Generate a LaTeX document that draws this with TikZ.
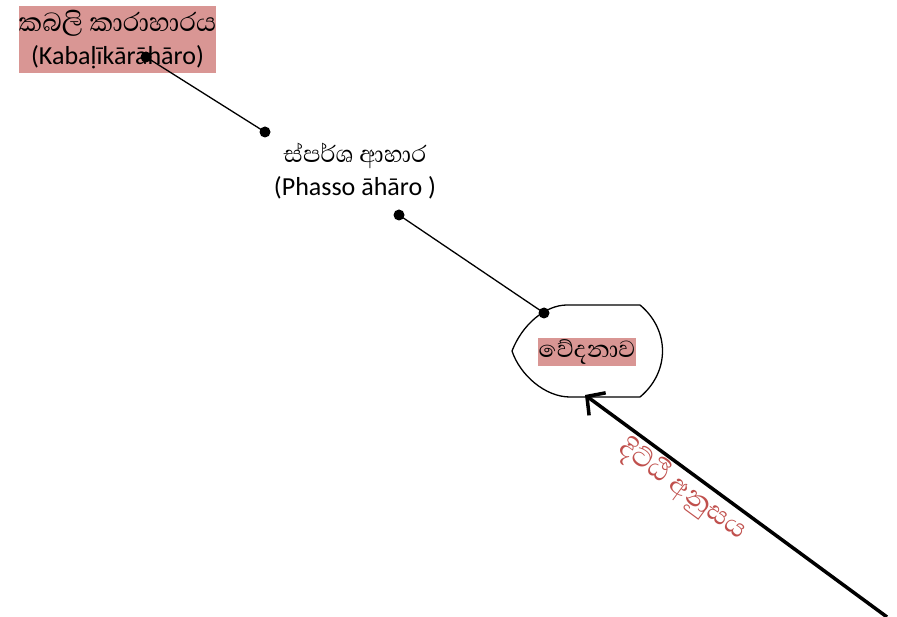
\documentclass[tikz,border=0pt]{standalone}
\usepackage{fontspec}
\setmainfont{Carlito}
\newfontfamily\sinhala[Script=Sinhala,Scale=1.15]{Abhaya Libre}
\usetikzlibrary{calc, positioning, arrows.meta}
\definecolor{boxred}{HTML}{D99694}
\definecolor{labelred}{HTML}{C0504D}

\begin{document}
\begin{tikzpicture}[x=1pt,y=-1pt,
  every node/.style={font=\fontsize{26}{33}\selectfont},
  dot/.style={circle,fill=black,inner sep=0pt,minimum size=11pt},
  link/.style={line width=1.3pt}]
\useasboundingbox (0,0) rectangle (897,617);
% Top left box
\node[fill=boxred,minimum width=193pt,minimum height=67pt,inner sep=0pt,align=center] (kabali) at (117.5,39.5) {{\sinhala\fontsize{29}{33}\selectfont කබලි කාරාහාරය}\\(Kabaḷīkārāhāro)};
\node[dot] (kdot) at (146,57) {};
\node[dot] (pdot1) at (265,132) {};
\draw[link] (kdot.center) -- (pdot1.center);
% Second food
\node[align=center,inner sep=0pt] (phasso) at (355,171) {{\sinhala ස්පර්ශ ආහාර}\\(Phasso āhāro )};
\node[dot] (pdot2) at (399,215) {};
\node[dot] (vdot) at (544,313) {};
\draw[link] (pdot2.center) -- (vdot.center);
% Feeling shape
\draw[link] (567,305) -- (640,305) .. controls (670,330) and (670,372) .. (640,397)
  -- (570,397) .. controls (545,397) and (520,375) .. (512,351)
  .. controls (522,325) and (545,305) .. (567,305);
\node[fill=boxred,inner sep=1pt,minimum width=96pt,minimum height=28pt] (vedana) at (587,352) {\sinhala වේදනාව};
% Thick arrow into the shape
\coordinate (vtip) at (585,395);
\coordinate (astart) at (887,617);
\draw[line width=3.5pt,-{Straight Barb[length=13pt,width=28pt]}] (astart) -- node[sloped,below,pos=0.64,text=labelred,inner sep=1pt] {\sinhala\fontsize{30}{33}\selectfont දිට්ඨි අනුසය} (vtip);
\end{tikzpicture}
\end{document}
